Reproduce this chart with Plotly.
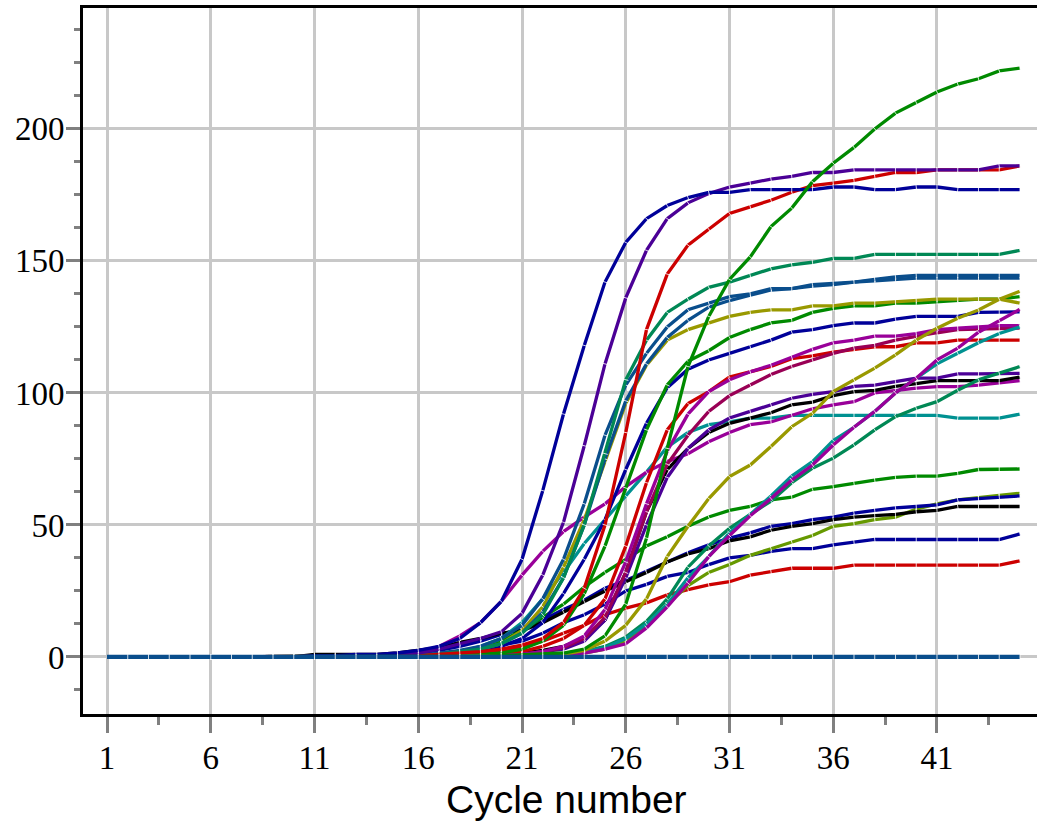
import plotly.graph_objects as go

cycles = list(range(1, 46))

navy_a = [0,0,0,0,0, 0,0,0,0,0, 0.5,0.5,1,1,1.5, 2.5,4,7,13,21, 37,63,92,118,142,
          157,166,171,174,176, 176,177,177,177,177, 178,178,177,177,178, 178,177,177,177,177]
indigo_a = [0,0,0,0,0, 0,0,0,0,0, 0,0,0,0,0.5, 1.5,3,5,7,9.5, 16.5,31,51,80,111,
            136,154,166,172,175.5, 178,179.5,181,182,183.5, 183.5,184.5,184.5,184.5,184.5, 184.5,184.5,184.5,186,186]
red_a = [0,0,0,0,0, 0,0,0,0,0, 0,0,0,0,0, 0.5,1,1.5,2,3, 4.5,7,13,26,50,
         85,124,145,156,162, 168,170.5,173,176,178.5, 179.5,180.5,182,183.5,183.5, 184.5,184.5,184.5,184.5,186]
green_a = [0,0,0,0,0, 0,0,0,0,0, 0,0,0,0,0, 0,0,0,0.3,0.5, 0.8,1,1.5,3,8,
           20,45,79,110,129, 143,151.5,163,170,180, 187,193,200,206,210, 214,217,219,222,223]
seagreen_a = [0,0,0,0,0, 0,0,0,0,0, 0,0,0,0,0, 0.5,1,2,3,5, 9,16,30,50,77,
              105,120,130.5,135.5,140, 142,144.5,147,148.5,149.5, 151,151,152.5,152.5,152.5, 152.5,152.5,152.5,152.5,154]
steel_a = [0,0,0,0,0, 0,0,0,0,0, 0,0,0,0,0, 0.5,1.5,2.5,4,7, 12,22,37,58,84,
           103,115,125,131.5,134, 136.5,137.5,139.5,139.5,141, 141.5,142,143,144,144.5, 144.5,144.5,144.5,144.5,144.5]
steel_b = [0,0,0,0,0, 0,0,0,0,0, 0,0,0,0,0, 0.5,1,2,3,5, 9,17,30,50,75,
           97,111,121,127.5,132.5, 135,137,139,139.5,140.5, 141,142,142.5,143,143.5, 143.5,143.5,143.5,143.5,143.5]
olive_a = [0,0,0,0,0, 0,0,0,0,0, 0,0,0,0,0, 0.5,1,2,3,5, 10,19,34,52,74,
           96,110.5,120,124,126.5, 129,130.5,131.5,131.5,133, 133,134,134,134.5,135, 135.5,135.5,135.5,135.5,134]
green_b = [0,0,0,0,0, 0,0,0,0,0, 0,0,0,0,0, 0,0,0.5,1,1.5, 3,6,12,24,42,
           64,86,103,112,116, 121,124,126.5,127.5,130.5, 132,133,133,134,134, 134.5,135,135.5,135.5,136.5]
navy_b = [0,0,0,0,0, 0,0,0,0,0, 0,0,0,0,0, 0,0.5,1,2,4, 7,13,24,37,52,
          71,88.5,102,109,112.5, 115,117.5,120,123,124, 125.5,126.5,126.5,128,129, 129,129,130.5,130.5,130.7]
magenta_a = [0,0,0,0,0, 0,0,0,0,0, 0,0,0,0,0, 0,0,0,0.3,0.5, 1,2,4,8,18,
             36,58,78,92,100.5, 105,108,110.5,113.5,116.5, 119,120,121.5,121.5,122.5, 124,124.5,125,125.5,125.5]
maroon = [0,0,0,0,0, 0,0,0,0,0, 0,0,0,0,0, 0,0,0,0.3,0.5, 1,2,3.5,7,15,
          32,55,73,84,93, 99,103,107,110,112.5, 115,117,118,120,121.5, 122.8,124,124.3,124.5,124.6]
red_b = [0,0,0,0,0, 0,0,0,0,0, 0,0,0,0,0, 0,0,0.3,0.5,1, 2,4,7,12,22,
         42,66,86,96,100.5, 106,108,110,113,114, 115.5,116.5,117.5,117.5,119, 119,120,120,120,120]
indigo_b = [0,0,0,0,0, 0,0,0,0,0, 0,0,0,0,0, 0,0,0,0.3,0.5, 1,2,3,6,14,
            30,50,68,79,86, 90.5,93,95.5,98,99.5, 100.5,102.5,103,104.3,105.6, 105.6,107.2,107.2,107.2,107.4]
black_a = [0,0,0,0,0, 0,0,0,0,0, 0,0,0,0,0, 0,0,0.3,0.5,1, 1.5,2.5,4,7,14,
           32,55,71,79,85, 88.5,90.5,92.5,95.5,96.5, 99,100.5,101,102.5,103.5, 104.7,104.7,104.7,104.7,106]
black_b = [0,0,0,0,0, 0,0,0,0,0, 1,1,1,1,1.5, 2.5,3.5,5.5,7,9, 10,13,17,21,25,
           28.5,32,36,39,41, 44,45.5,48,49.5,50.5, 52,53,53.5,54,55, 55.5,57,57,57,57]
magenta_b = [0,0,0,0,0, 0,0,0,0,0, 0,0,0,0,0.5, 1.5,4,8,13,21, 31,40,47.5,53,58,
             64.5,70,74,77,81.5, 85,88,89,91.5,94, 95.5,96.7,100,101,101.8, 102.4,102.4,103,103.7,104.7]
teal_a = [0,0,0,0,0, 0,0,0,0,0, 0,0,0,0,0, 0.5,1,2,4,7, 13,22,32,43,52,
          61,70,79.5,85,88, 89,90.5,90.5,91.5,91.5, 91.5,91.5,91.5,91.5,91.5, 91.5,90.5,90.5,90.5,92]
green_c = [0,0,0,0,0, 0,0,0,0,0, 0,0,0,0,0, 0.5,1,2,3.5,6, 10,15,20,26.5,32,
           37,42,45.5,49.5,53, 55.5,57,59.5,60.5,63.5, 64.5,65.8,67,68,68.5, 68.5,69.5,71,71,71.2]
navy_c = [0,0,0,0,0, 0,0,0,0,0, 0,0,0,0,0.5, 1.5,2.5,4,6,8.5, 11,14,18,21.5,26,
          29,32.5,36,39.5,42.5, 45,47,49.5,50.5,52, 53,54.5,55.5,56.5,57, 57.6,59.5,60,60.7,61]
yellowgreen = [0,0,0,0,0, 0,0,0,0,0, 0,0,0,0,0, 0,0,0,0,0.3, 0.5,0.8,1,1.5,3,
               6,12,20,27,32, 35,38.5,41,43.5,46, 49.5,50.5,52,53,56, 58,59.5,60.5,61.2,62]
navy_d = [0,0,0,0,0, 0,0,0,0,0, 0,0,0,0,0, 0.5,1,2,3,4.5, 6,9,13,16,20,
          25,27.5,30.5,32,35, 37.5,38.5,40,41,41, 42.5,43.5,44.5,44.5,44.5, 44.5,44.5,44.5,44.5,46.6]
red_c = [0,0,0,0,0, 0,0,0,0,0, 0,0,0,0,0, 0.3,0.5,1,1.5,2.5, 4,6,9,12,16,
         18.5,20.5,23.5,25.5,27.3, 28.5,31,32.3,33.6,33.6, 33.6,34.8,34.8,34.8,34.8, 34.8,34.8,34.8,34.8,36.4]
olive_b = [0,0,0,0,0, 0,0,0,0,0, 0,0,0,0,0, 0,0,0,0,0.2, 0.3,0.5,1,2.5,6,
           12,22,38,49.5,60, 68.3,72.7,79.7,87.2,92.3, 100.5,105,109.4,114.4,120, 124.5,128.3,131.4,135.5,138.5]
seagreen_b = [0,0,0,0,0, 0,0,0,0,0, 0,0,0,0,0, 0,0,0,0,0, 0.3,0.5,1,2,4,
              7.5,13.5,22,34,42, 48.7,54,59,66,71.5, 75.3,80.3,86,91,94.2, 96.7,101,105,107.5,110]
teal_b = [0,0,0,0,0, 0,0,0,0,0, 0,0,0,0,0, 0,0,0,0,0, 0.3,0.5,1,2,3.5,
          7,12.5,20,30,38, 47,54,61,68.5,74, 82,87,93,100,105.6, 111,115,119,122.5,125]
magenta_c = [0,0,0,0,0, 0,0,0,0,0, 0,0,0,0,0, 0,0,0,0,0, 0.2,0.4,0.8,1.5,3,
             5,11,19,28,38, 46,53.5,60,67,72.7, 80.3,87,93,100,105.6, 112.5,117,123,127.5,131.7]
zero_line = [0] * 45

x_tick_vals = [1, 6, 11, 16, 21, 26, 31, 36, 41]
y_tick_vals = [0, 50, 100, 150, 200]
x_title = "Cycle number"

NAVY = "#000099"
INDIGO = "#4B0096"
RED = "#CC0000"
GREEN = "#008A00"
SEAGREEN = "#008855"
STEEL = "#0A4E8C"
OLIVE = "#999900"
MAGENTA = "#990099"
MAROON = "#990055"
TEAL = "#009191"
BLACK = "#000000"
YGREEN = "#669900"

series = [
    (red_c, RED), (navy_d, NAVY), (yellowgreen, YGREEN), (navy_c, NAVY), (black_b, BLACK),
    (green_c, GREEN), (teal_a, TEAL), (magenta_b, MAGENTA), (black_a, BLACK), (indigo_b, INDIGO),
    (red_b, RED), (maroon, MAROON), (magenta_a, MAGENTA), (navy_b, NAVY), (green_b, GREEN),
    (olive_a, OLIVE), (steel_b, STEEL), (steel_a, STEEL), (seagreen_a, SEAGREEN),
    (seagreen_b, SEAGREEN), (teal_b, TEAL), (magenta_c, MAGENTA), (olive_b, OLIVE),
    (red_a, RED), (indigo_a, INDIGO), (navy_a, NAVY), (green_a, GREEN), (zero_line, STEEL),
]

fig = go.Figure()
for i, (vals, col) in enumerate(series):
    is_zero = i == len(series) - 1
    fig.add_trace(go.Scatter(
        x=cycles, y=vals, mode="lines+markers",
        line=dict(color=col, width=4.2 if is_zero else 3.3),
        marker=dict(symbol="line-ew", angleref="previous", size=4,
                    color="white", line=dict(color="white", width=0.8)),
        showlegend=False, hoverinfo="skip",
    ))

grid_col = "#C8C8C8"
tick_col = "#808080"

fig.update_layout(
    width=1037, height=821,
    margin=dict(l=83, r=0, t=8, b=107),
    paper_bgcolor="white", plot_bgcolor="white",
    showlegend=False,
    xaxis=dict(
        range=[-0.157, 45.82], tickmode="array", tickvals=x_tick_vals,
        ticktext=[str(v) for v in x_tick_vals],
        showgrid=True, gridcolor=grid_col, gridwidth=3, zeroline=False,
        showline=True, linecolor="black", linewidth=3, mirror=True,
        ticks="outside", ticklen=16, tickwidth=3, tickcolor=tick_col,
        minor=dict(tickmode="array", tickvals=[3.5, 8.5, 13.5, 18.5, 23.5, 28.5, 33.5, 38.5, 43.5],
                   ticks="outside", ticklen=8, tickwidth=3, tickcolor=tick_col, showgrid=False),
        tickfont=dict(family="Liberation Serif", size=33, color="black"),
        ticklabelstandoff=-4,
    ),
    yaxis=dict(
        range=[-21.6, 245.8], tickmode="array", tickvals=y_tick_vals,
        ticktext=[str(v) for v in y_tick_vals],
        showgrid=True, gridcolor=grid_col, gridwidth=3, zeroline=False,
        showline=True, linecolor="black", linewidth=3, mirror=False,
        ticks="outside", ticklen=14, tickwidth=3, tickcolor=tick_col,
        minor=dict(tickmode="array",
                   tickvals=[-12.5, 12.5, 25, 37.5, 62.5, 75, 87.5, 112.5, 125, 137.5,
                             162.5, 175, 187.5, 212.5, 225, 237.5],
                   ticks="outside", ticklen=6, tickwidth=3, tickcolor=tick_col, showgrid=False),
        tickfont=dict(family="Liberation Serif", size=33, color="black"),
        ticklabelstandoff=-5,
    ),
    annotations=[dict(
        text=x_title, xref="paper", yref="paper", x=0.5063, y=-0.1215,
        xanchor="center", yanchor="middle", showarrow=False,
        font=dict(family="Liberation Sans", size=39, color="black"),
    )],
)

fig.write_html("out.html", config={"displayModeBar": False},
               post_script="document.body.style.margin='0';document.body.style.overflow='hidden';")
